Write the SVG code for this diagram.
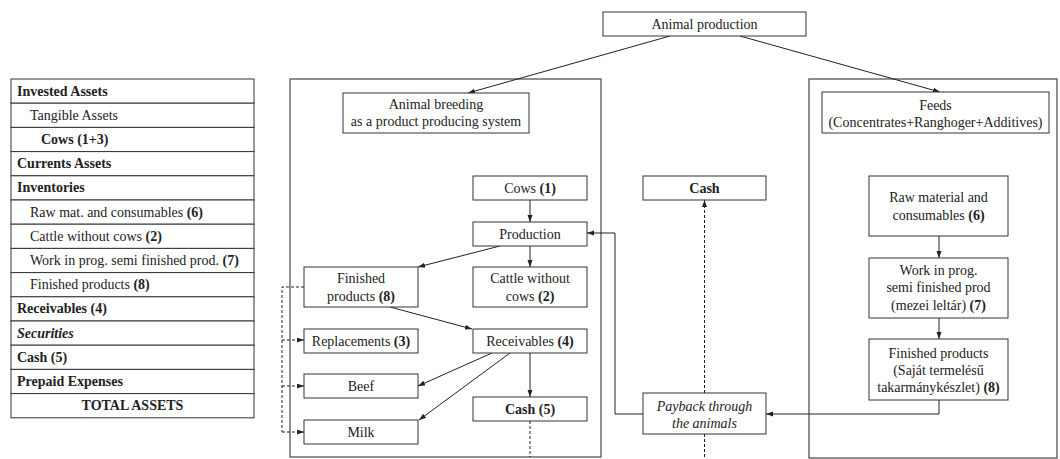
<svg xmlns="http://www.w3.org/2000/svg" width="1060" height="459" viewBox="0 0 1060 459">
<style>
.box{fill:#fff;stroke:#333;stroke-width:1}
.frame{fill:none;stroke:#555;stroke-width:1.3}
.t{font-family:'Liberation Serif','Tinos','Times New Roman','DejaVu Serif','Noto Serif',serif;font-size:14px;fill:#222}
.c{text-anchor:middle}
.b{font-weight:bold}
.i{font-style:italic}
.ln{fill:none;stroke:#222;stroke-width:1}
.d{stroke-dasharray:3,2}
</style>
<defs>
<marker id="ah" markerUnits="userSpaceOnUse" markerWidth="8" markerHeight="6" refX="7" refY="2.5" orient="auto">
<path d="M0,0 L7,2.5 L0,5 z" fill="#222"/>
</marker>
</defs>
<rect width="1060" height="459" fill="#fff"/>

<g id="assets-table">
<rect class="box" x="11" y="79" width="243" height="24.2"/>
<rect class="box" x="11" y="103.2" width="243" height="24.2"/>
<rect class="box" x="11" y="127.4" width="243" height="24.2"/>
<rect class="box" x="11" y="151.6" width="243" height="24.2"/>
<rect class="box" x="11" y="175.8" width="243" height="24.2"/>
<rect class="box" x="11" y="200" width="243" height="24.2"/>
<rect class="box" x="11" y="224.2" width="243" height="24.2"/>
<rect class="box" x="11" y="248.4" width="243" height="24.2"/>
<rect class="box" x="11" y="272.6" width="243" height="24.2"/>
<rect class="box" x="11" y="296.8" width="243" height="24.2"/>
<rect class="box" x="11" y="321" width="243" height="24.2"/>
<rect class="box" x="11" y="345.2" width="243" height="24.2"/>
<rect class="box" x="11" y="369.4" width="243" height="24.2"/>
<rect class="box" x="11" y="393.6" width="243" height="24.2"/>
<text class="t b" x="17" y="95.6">Invested Assets</text>
<text class="t" x="30" y="119.8">Tangible Assets</text>
<text class="t b" x="41" y="144">Cows (1+3)</text>
<text class="t b" x="17" y="168.2">Currents Assets</text>
<text class="t b" x="17" y="192.4">Inventories</text>
<text class="t" x="30" y="216.6">Raw mat. and consumables <tspan class="b">(6)</tspan></text>
<text class="t" x="30" y="240.8">Cattle without cows <tspan class="b">(2)</tspan></text>
<text class="t" x="30" y="265">Work in prog. semi finished prod. <tspan class="b">(7)</tspan></text>
<text class="t" x="30" y="289.2">Finished products <tspan class="b">(8)</tspan></text>
<text class="t b" x="17" y="313.4">Receivables (4)</text>
<text class="t b i" x="17" y="337.6">Securities</text>
<text class="t b" x="17" y="361.8">Cash (5)</text>
<text class="t b" x="17" y="386">Prepaid Expenses</text>
<text class="t b c" x="132.5" y="410.2">TOTAL ASSETS</text>
</g>

<g id="frame-breeding"><rect class="frame" x="290" y="79" width="311" height="378"/></g>
<g id="frame-feeds"><rect class="frame" x="809" y="79" width="248" height="379"/></g>

<g id="connectors">
<path class="ln" d="M670,36 L468,93" marker-end="url(#ah)"/>
<path class="ln" d="M740,36 L940,92" marker-end="url(#ah)"/>
<path class="ln" d="M530,200 L530,222" marker-end="url(#ah)"/>
<path class="ln" d="M530,246 L530,267" marker-end="url(#ah)"/>
<path class="ln" d="M500,246 L418,267" marker-end="url(#ah)"/>
<path class="ln" d="M390,307 L472,329" marker-end="url(#ah)"/>
<path class="ln" d="M492,353 L418,386" marker-end="url(#ah)"/>
<path class="ln" d="M510,353 L419,420" marker-end="url(#ah)"/>
<path class="ln" d="M530,353 L530,397" marker-end="url(#ah)"/>
<path class="ln d" d="M530,421 L530,457"/>
<path class="ln d" d="M304,287 L282,287 L282,432"/>
<path class="ln d" d="M282,340 L304,340" marker-end="url(#ah)"/>
<path class="ln d" d="M282,386 L304,386" marker-end="url(#ah)"/>
<path class="ln d" d="M282,432 L304,432" marker-end="url(#ah)"/>
<path class="ln" d="M939,236 L939,258" marker-end="url(#ah)"/>
<path class="ln" d="M939,318 L939,339" marker-end="url(#ah)"/>
<path class="ln" d="M939,400 L939,414 L766,414" marker-end="url(#ah)"/>
<path class="ln" d="M643,414 L615,414 L615,233 L587,233" marker-end="url(#ah)"/>
<path class="ln d" d="M704.5,393 L704.5,200" marker-end="url(#ah)"/>
<path class="ln d" d="M704.5,434 L704.5,459"/>
</g>

<g id="animal-production">
<rect class="box" x="603" y="12" width="203" height="24"/>
<text class="t c" x="704.5" y="28.5">Animal production</text>
</g>
<g id="animal-breeding">
<rect class="box" x="343" y="93" width="186" height="40"/>
<text class="t c" x="436" y="109">Animal breeding</text>
<text class="t c" x="436" y="126">as a product producing system</text>
</g>
<g id="feeds">
<rect class="box" x="822" y="92" width="227" height="41"/>
<text class="t c" x="935.5" y="110">Feeds</text>
<text class="t c" x="935.5" y="127">(Concentrates+Ranghoger+Additives)</text>
</g>
<g id="cows">
<rect class="box" x="473" y="176" width="114" height="24"/>
<text class="t c" x="530" y="192.5">Cows <tspan class="b">(1)</tspan></text>
</g>
<g id="production">
<rect class="box" x="473" y="222" width="114" height="24"/>
<text class="t c" x="530" y="238.5">Production</text>
</g>
<g id="finished-products">
<rect class="box" x="304" y="267" width="114" height="40"/>
<text class="t c" x="361" y="282.5">Finished</text>
<text class="t c" x="361" y="301">products <tspan class="b">(8)</tspan></text>
</g>
<g id="cattle">
<rect class="box" x="473" y="267" width="114" height="40"/>
<text class="t c" x="530" y="282.5">Cattle without</text>
<text class="t c" x="530" y="301">cows <tspan class="b">(2)</tspan></text>
</g>
<g id="replacements">
<rect class="box" x="304" y="329" width="114" height="24"/>
<text class="t c" x="361" y="345.5">Replacements <tspan class="b">(3)</tspan></text>
</g>
<g id="receivables">
<rect class="box" x="473" y="329" width="114" height="24"/>
<text class="t c" x="530" y="345.5">Receivables <tspan class="b">(4)</tspan></text>
</g>
<g id="beef">
<rect class="box" x="304" y="374" width="114" height="24"/>
<text class="t c" x="361" y="390.5">Beef</text>
</g>
<g id="cash5">
<rect class="box" x="473" y="397" width="114" height="24"/>
<text class="t c b" x="530" y="413.5">Cash (5)</text>
</g>
<g id="milk">
<rect class="box" x="304" y="420" width="114" height="24"/>
<text class="t c" x="361" y="436.5">Milk</text>
</g>
<g id="cash">
<rect class="box" x="643" y="176" width="123" height="24"/>
<text class="t c b" x="704.5" y="192.5">Cash</text>
</g>
<g id="payback">
<rect class="box" x="643" y="393" width="123" height="41"/>
<text class="t c i" x="704.5" y="410.5">Payback through</text>
<text class="t c i" x="704.5" y="427.5">the animals</text>
</g>
<g id="raw-material">
<rect class="box" x="869" y="176" width="139" height="60"/>
<text class="t c" x="938.5" y="201.5">Raw material and</text>
<text class="t c" x="938.5" y="219.5">consumables <tspan class="b">(6)</tspan></text>
</g>
<g id="work-in-progress">
<rect class="box" x="869" y="258" width="139" height="60"/>
<text class="t c" x="938.5" y="274.5">Work in prog.</text>
<text class="t c" x="938.5" y="291.5">semi finished prod</text>
<text class="t c" x="938.5" y="310">(mezei leltár) <tspan class="b">(7)</tspan></text>
</g>
<g id="finished-feed">
<rect class="box" x="869" y="339" width="139" height="61"/>
<text class="t c" x="938.5" y="357.5">Finished products</text>
<text class="t c" x="938.5" y="374.5">(Saját termelésű</text>
<text class="t c" x="938.5" y="391.5">takarmánykészlet) <tspan class="b">(8)</tspan></text>
</g>
</svg>
